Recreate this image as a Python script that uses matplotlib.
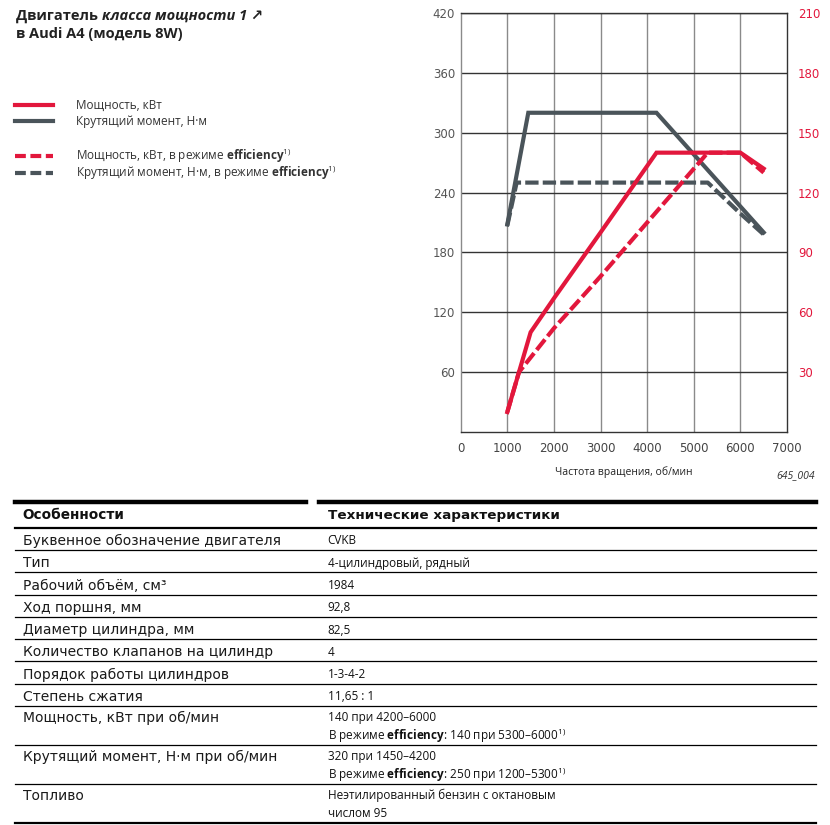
import matplotlib
matplotlib.use("Agg")
import matplotlib.pyplot as plt
from matplotlib.lines import Line2D

# chart data
rpm_torque = [1000, 1450, 4200, 6500]
torque = [208, 320, 320, 200]
rpm_torque_eff = [1000, 1200, 5300, 6000, 6500]
torque_eff = [207, 250, 250, 219, 198]

rpm_power = [1000, 1500, 2000, 3000, 4200, 6000, 6500]
power = [10, 50, 67, 100, 140, 140, 132]
rpm_power_eff = [1000, 1250, 2000, 3000, 4000, 5300, 6000, 6500]
power_eff = [10, 30, 52, 78, 105, 140, 140, 130]

x_ticks = [0, 1000, 2000, 3000, 4000, 5000, 6000, 7000]
torque_ticks = [60, 120, 180, 240, 300, 360, 420]
power_ticks = [30, 60, 90, 120, 150, 180, 210]

legend_labels = ["Мощность, кВт", "Крутящий момент, Н·м",
                 r"Мощность, кВт, в режиме $\mathbf{efficiency}^{1)}$",
                 r"Крутящий момент, Н·м, в режиме $\mathbf{efficiency}^{1)}$"]

# table data
features = ["Буквенное обозначение двигателя", "Тип", "Рабочий объём, см³",
            "Ход поршня, мм", "Диаметр цилиндра, мм", "Количество клапанов на цилиндр",
            "Порядок работы цилиндров", "Степень сжатия", "Мощность, кВт при об/мин",
            "Крутящий момент, Н·м при об/мин", "Топливо"]
values = [["CVKB"], ["4-цилиндровый, рядный"], ["1984"], ["92,8"], ["82,5"], ["4"],
          ["1-3-4-2"], ["11,65 : 1"],
          ["140 при 4200–6000", r"В режиме $\mathbf{efficiency}$: 140 при 5300–$6000^{1)}$"],
          ["320 при 1450–4200", r"В режиме $\mathbf{efficiency}$: 250 при 1200–$5300^{1)}$"],
          ["Неэтилированный бензин с октановым", "числом 95"]]

RED = "#e2173c"
GREY = "#4a545a"
W, H = 830, 825

plt.rcParams["font.family"] = ["Open Sans", "DejaVu Sans"]
plt.rcParams["mathtext.fontset"] = "custom"
plt.rcParams["mathtext.rm"] = "Open Sans"
plt.rcParams["mathtext.it"] = "Open Sans:italic"
plt.rcParams["mathtext.bf"] = "Open Sans:bold"

WIDE = ["DejaVu Sans"]

fig = plt.figure(figsize=(W / 100, H / 100), dpi=100)


def fx(px):
    return px / W


def fy(py):
    return 1 - py / H


ax = fig.add_axes([fx(460.7), fy(432), fx(787 - 460.7), (432 - 13) / H])
ax2 = ax.twinx()

ax.plot(rpm_torque, torque, color=GREY, lw=3, solid_joinstyle="miter", zorder=3)
ax.plot(rpm_torque_eff, torque_eff, color=GREY, lw=3, ls=(0, (3.2, 1.0)), dash_capstyle="butt", zorder=3)
ax2.plot(rpm_power, power, color=RED, lw=3, solid_joinstyle="miter", zorder=3)
ax2.plot(rpm_power_eff, power_eff, color=RED, lw=3, ls=(0, (3.2, 1.0)), dash_capstyle="butt", zorder=3)

ax.set_xlim(0, 7000)
ax.set_ylim(0, 420)
ax2.set_ylim(0, 210)
ax.set_xticks(x_ticks, labels=[str(v) for v in x_ticks], fontfamily=WIDE)
ax.set_yticks(torque_ticks, labels=[str(v) for v in torque_ticks], fontfamily=WIDE)
ax2.set_yticks(power_ticks, labels=[str(v) for v in power_ticks], fontfamily=WIDE)
ax.tick_params(axis="x", length=0, pad=7, labelsize=8.5, labelcolor="#444")
ax.tick_params(axis="y", length=0, pad=4, labelsize=8.5, labelcolor="#555")
ax2.tick_params(axis="y", length=0, pad=8, labelsize=8.5, labelcolor=RED)

for x in x_ticks[1:-1]:
    ax.axvline(x, color="#8a8a8a", lw=1, zorder=1)
for y in torque_ticks:
    ax.axhline(y, color="#333333", lw=1, zorder=1)
for s in ax.spines.values():
    s.set_linewidth(1)
    s.set_color("#333333")
ax.spines["left"].set_color("#8a8a8a")
for s in ax2.spines.values():
    s.set_visible(False)

ax.set_xlabel("Частота вращения, об/мин", fontsize=7.5, labelpad=8, color="#222")
fig.text(fx(815), fy(476), "645_004", fontsize=7.5, style="italic", ha="right", va="center", color="#333")

# title
t1 = fig.text(fx(16), fy(16), "Двигатель ", fontsize=10.5, weight="bold", va="center", color="#222")
renderer = fig.canvas.get_renderer()
bb = t1.get_window_extent(renderer)
fig.text(bb.x1 / W, fy(16), "класса мощности 1 ↗", fontsize=10.5, weight="bold", style="italic",
         va="center", color="#222")
fig.text(fx(16), fy(34), "в Audi A4 (модель 8W)", fontsize=10.5, weight="bold", va="center", color="#222")

# legend, one entry per row
handles = [Line2D([], [], color=RED, lw=3), Line2D([], [], color=GREY, lw=3),
           Line2D([], [], color=RED, lw=3, ls=(0, (2.6, 1.1)), dash_capstyle="butt"),
           Line2D([], [], color=GREY, lw=3, ls=(0, (2.6, 1.1)), dash_capstyle="butt")]
legend_rows = [105.5, 122, 156, 173]
for handle, label, yc in zip(handles, legend_labels, legend_rows):
    fig.legend([handle], [label], loc="center left", bbox_to_anchor=(fx(15), fy(yc)), frameon=False,
               fontsize=8.5, handlelength=3.2, handletextpad=2.0, borderpad=0, borderaxespad=0,
               labelcolor="#333")

# table
x_left, x_mid, x_right = 15, 319, 816
fig.add_artist(Line2D([fx(x_left), fx(306)], [fy(502), fy(502)], color="black", lw=3.2))
fig.add_artist(Line2D([fx(x_mid), fx(x_right)], [fy(502), fy(502)], color="black", lw=3.2))
fig.text(fx(22.5), fy(515), "Особенности", fontsize=9.8, weight="bold", family=WIDE, va="center", color="#111")
fig.text(fx(327.5), fy(515), "Технические характеристики", fontsize=9.7, weight="bold", family=WIDE,
         va="center", color="#111")
fig.add_artist(Line2D([fx(x_left), fx(x_right)], [fy(527.7), fy(527.7)], color="black", lw=1.6))

top = 527.7
for i, (name, val) in enumerate(zip(features, values)):
    if len(val) == 1:
        h = 22.3
        fig.text(fx(22.5), fy(top + 13.2), name, fontsize=10, family=WIDE, va="center", color="#1a1a1a")
        fig.text(fx(327.5), fy(top + 13.2), val[0], fontsize=8.5, va="center", color="#111")
    else:
        h = 39
        fig.text(fx(22.5), fy(top + 11.5), name, fontsize=10, family=WIDE, va="center", color="#1a1a1a")
        fig.text(fx(327.5), fy(top + 11.5), val[0], fontsize=8.5, va="center", color="#111")
        fig.text(fx(327.5), fy(top + 29.5), val[1], fontsize=8.5, va="center", color="#111")
    top += h
    last = i == len(features) - 1
    fig.add_artist(Line2D([fx(x_left), fx(x_right)], [fy(top), fy(top)], color="black",
                          lw=1.6 if last else 0.9))

fig.savefig("out.png", dpi=100)
